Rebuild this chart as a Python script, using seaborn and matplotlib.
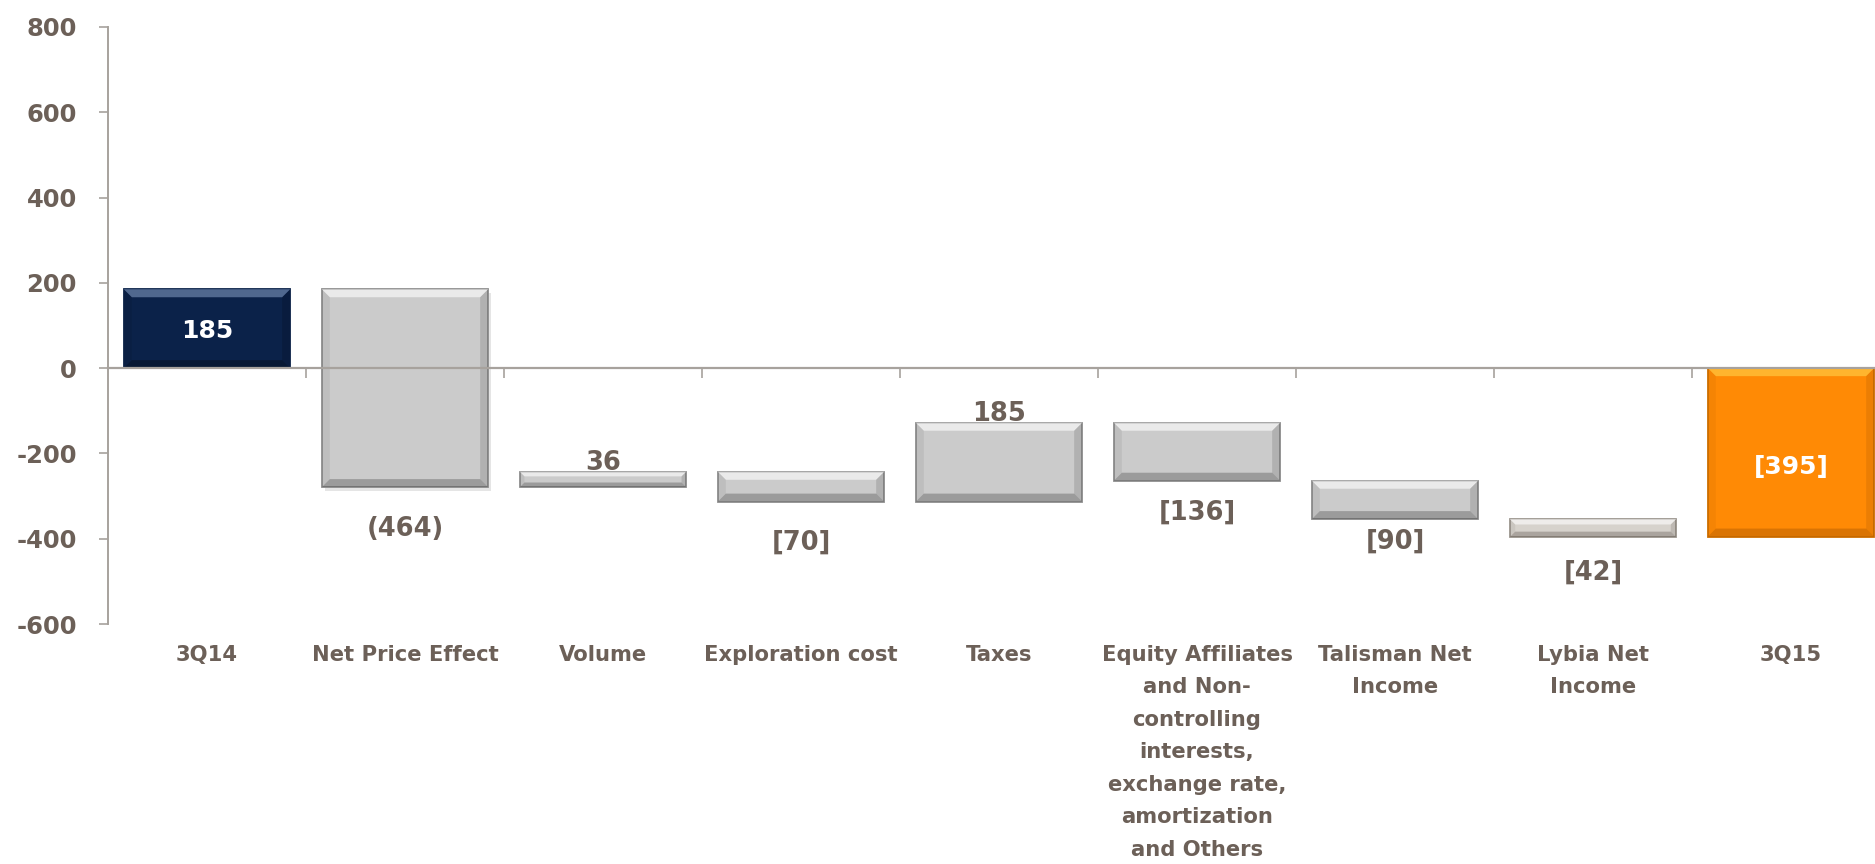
import numpy as np
import pandas as pd
import matplotlib
matplotlib.use("Agg")
import matplotlib.pyplot as plt
import seaborn as sns
from matplotlib.patches import Polygon
from matplotlib.transforms import IdentityTransform
import matplotlib.patheffects as pe

# ---------------- data ----------------
categories = ["3Q14", "Net Price Effect", "Volume", "Exploration cost", "Taxes",
              "Equity Affiliates\nand Non-\ncontrolling\ninterests,\nexchange rate,\namortization\nand Others",
              "Talisman Net\nIncome", "Lybia Net\nIncome", "3Q15"]
changes = [185, -464, 36, -70, 185, -136, -90, -42, -395]
is_total = [True, False, False, False, False, False, False, False, True]
value_labels = ["185", "(464)", "36", "[70]", "185", "[136]", "[90]", "[42]", "[395]"]
yticks = [-600, -400, -200, 0, 200, 400, 600, 800]

# ---------------- styles ----------------
label_gap_px = [0, 39, 2, 38, 2, 29, 20, 33, -12]
TEXT = "#6c6058"
AXIS = "#a7a29d"
face_colors = ["#0b2249", "#cbcbcb", "#cbcbcb", "#cbcbcb", "#cbcbcb",
               "#cbcbcb", "#cbcbcb", "#d6d2cc", "#ff8a05"]
edge_colors = ["#0b2249", "#8f8f8f", "#8f8f8f", "#8f8f8f", "#8f8f8f",
               "#8f8f8f", "#8f8f8f", "#9c968f", "#d07000"]
light_colors = ["#7f97bd", "white", "white", "white", "white", "white", "white", "white", "#ffd24a"]
dark_colors = ["#000000", "#202020", "#202020", "#202020", "#202020",
               "#202020", "#202020", "#3a3028", "#7a3c00"]

# waterfall geometry derived from the data
heights, bottoms = [], []
running = 0.0
for v, tot in zip(changes, is_total):
    if tot:
        bottoms.append(0.0)
        heights.append(v)
        running = v
    else:
        bottoms.append(running)
        heights.append(v)
        running += v

df = pd.DataFrame({"category": categories, "height": heights})

sns.set_theme(style="white")
plt.rcParams["font.family"] = ["DejaVu Sans"]
plt.rcParams["font.weight"] = "bold"

fig = plt.figure(figsize=(18.75, 8.64), dpi=100)
ax = fig.add_axes([108 / 1875, 1 - 624 / 864, 1782 / 1875, 597 / 864])

sns.barplot(data=df, x="category", y="height", order=categories, ax=ax,
            color="#cbcbcb", width=0.84, errorbar=None,
            bottom=np.array(bottoms), linewidth=1.3, edgecolor="#8f8f8f")

ax.set_xlim(-0.5, 8.5)
ax.set_ylim(-600, 800)
ax.set_yticks(yticks)
ax.set_yticklabels([str(t) for t in yticks], fontsize=17.5, color=TEXT, fontweight="bold")
ax.tick_params(axis="y", direction="out", length=6.5, width=1.2, color=AXIS, pad=16, left=True)

# x axis at zero, tick marks between categories
ax.spines["bottom"].set_position(("data", 0))
ax.spines["bottom"].set_color(AXIS)
ax.spines["bottom"].set_linewidth(1.6)
ax.spines["left"].set_color(AXIS)
ax.spines["left"].set_linewidth(1.4)
ax.spines["top"].set_visible(False)
ax.spines["right"].set_visible(False)
ax.set_xticks(np.arange(0.5, len(categories), 1.0))
ax.set_xticklabels([""] * len(categories))
ax.tick_params(axis="x", direction="out", length=7, width=1.2, color=AXIS, bottom=True)
ax.set_xlabel("")
ax.set_ylabel("")
ax.grid(False)

# category labels at the bottom
xt = ax.get_xaxis_transform()
for i, name in enumerate(categories):
    ax.annotate(name, xy=(i, 0), xycoords=xt, xytext=(0, -15), textcoords="offset points",
                ha="center", va="top", fontsize=15.2, color=TEXT, fontweight="bold",
                linespacing=1.78, annotation_clip=False)

# style bars + bevel effect
patches = list(ax.patches)


def bevel(patch, light, dark, depth=8):
    x0, y0 = patch.get_x(), patch.get_y()
    w, h = patch.get_width(), patch.get_height()
    p0 = ax.transData.transform((x0, y0))
    p1 = ax.transData.transform((x0 + w, y0 + h))
    xl, xr = sorted([p0[0], p1[0]])
    yb, yt = sorted([p0[1], p1[1]])
    b = min(depth, (yt - yb) * 0.3, (xr - xl) * 0.3)
    polys = [
        ([(xl, yt), (xr, yt), (xr - b, yt - b), (xl + b, yt - b)], light, 0.6),
        ([(xl, yb), (xr, yb), (xr - b, yb + b), (xl + b, yb + b)], dark, 0.28),
        ([(xl, yb), (xl + b, yb + b), (xl + b, yt - b), (xl, yt)], dark, 0.07),
        ([(xr, yb), (xr - b, yb + b), (xr - b, yt - b), (xr, yt)], dark, 0.15),
    ]
    for pts, c, a in polys:
        ax.add_patch(Polygon(pts, closed=True, facecolor=c, alpha=a, edgecolor="none",
                             transform=IdentityTransform(), zorder=patch.get_zorder() + 0.1))


for i, p in enumerate(patches):
    p.set_facecolor(face_colors[i])
    p.set_edgecolor(edge_colors[i])
    if i == 1:
        p.set_path_effects([pe.SimplePatchShadow(offset=(2, -3), alpha=0.15, shadow_rgbFace="#555555"),
                            pe.Normal()])
    bevel(p, light_colors[i], dark_colors[i])

# value labels
for i, lab in enumerate(value_labels):
    top = max(bottoms[i], bottoms[i] + heights[i])
    low = min(bottoms[i], bottoms[i] + heights[i])
    if is_total[i]:
        ax.annotate(lab, xy=(i, (top + low) / 2), xytext=(0, label_gap_px[i] * 0.72),
                    textcoords="offset points", ha="center", va="center_baseline",
                    fontsize=18, color="white", fontweight="bold")
    elif changes[i] > 0:
        ax.annotate(lab, xy=(i, top), xytext=(0, label_gap_px[i] * 0.72),
                    textcoords="offset points", ha="center", va="baseline",
                    fontsize=18.5, color=TEXT, fontweight="bold")
    else:
        ax.annotate(lab, xy=(i, low), xytext=(0, -label_gap_px[i] * 0.72),
                    textcoords="offset points", ha="center", va="center_baseline",
                    fontsize=18.5, color=TEXT, fontweight="bold")

fig.savefig("out.png", dpi=100)
